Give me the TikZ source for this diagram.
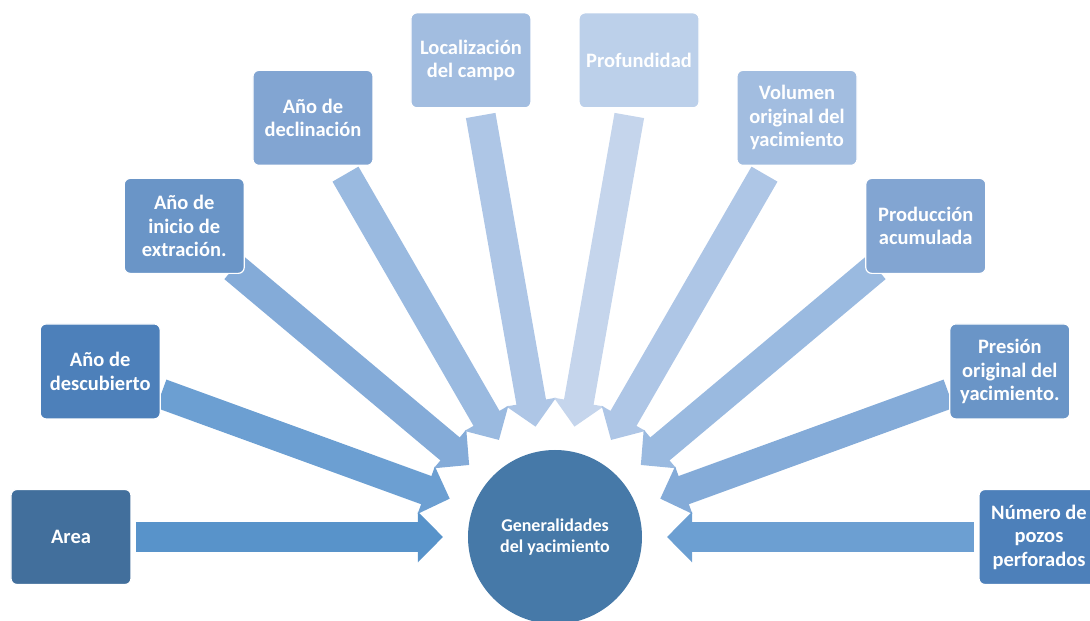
\documentclass[tikz,border=0pt]{standalone}
\usepackage{fontspec}
\setmainfont{Carlito}
\usetikzlibrary{arrows.meta,backgrounds}

\definecolor{hubblue}{HTML}{4679A8}
\definecolor{boxA}{HTML}{426F9C}
\definecolor{boxB}{HTML}{4D80BA}
\definecolor{boxC}{HTML}{6A95C7}
\definecolor{boxD}{HTML}{82A5D2}
\definecolor{boxE}{HTML}{A2BDE0}
\definecolor{boxF}{HTML}{BCD0EA}
\definecolor{arrA}{HTML}{5893CA}
\definecolor{arrB}{HTML}{6C9FD2}
\definecolor{arrC}{HTML}{84ABD8}
\definecolor{arrD}{HTML}{9ABAE0}
\definecolor{arrE}{HTML}{AEC6E6}
\definecolor{arrF}{HTML}{C5D5EC}

\begin{document}
\begin{tikzpicture}[
  box/.style={draw=white, line width=1.2pt, rounded corners=6pt, align=center, minimum width=120pt, minimum height=95pt, inner sep=2pt, text=white, font=\bfseries\fontsize{20.5}{23.5}\selectfont},
  hub/.style={circle, minimum size=174pt, fill=hubblue, align=center, text=white, font=\bfseries\fontsize{18}{20.5}\selectfont},
  arr/.style={line width=30pt, -{Triangle[length=25pt, width=49pt]}, shorten <=65pt, shorten >=112pt}
]
\useasboundingbox (-555pt,-84pt) rectangle (535pt,537pt);
\node[hub] (gen) at (0,0) {Generalidades\\del yacimiento};
\node[box, fill=boxA] (area) at (180:484pt) {Area};
\node[box, fill=boxB] (desc) at (160:484pt) {Año de\\descubierto};
\node[box, fill=boxC] (inicio) at (140:484pt) {Año de\\inicio de\\extración.};
\node[box, fill=boxD] (decl) at (120:484pt) {Año de\\declinación};
\node[box, fill=boxE] (loc) at (100:484pt) {Localización\\del campo};
\node[box, fill=boxF] (prof) at (80:484pt) {Profundidad};
\node[box, fill=boxE] (vol) at (60:484pt) {Volumen\\original del\\yacimiento};
\node[box, fill=boxD] (prod) at (40:484pt) {Producción\\acumulada};
\node[box, fill=boxC] (pres) at (20:484pt) {Presión\\original del\\yacimiento.};
\node[box, fill=boxB] (pozos) at (0:484pt) {Número de\\pozos\\perforados};
\begin{scope}[on background layer]
\draw[arr, arrA] (area.center) -- (gen.center);
\draw[arr, arrB] (desc.center) -- (gen.center);
\draw[arr, arrC] (inicio.center) -- (gen.center);
\draw[arr, arrD] (decl.center) -- (gen.center);
\draw[arr, arrE, shorten <=56pt] (loc.center) -- (gen.center);
\draw[arr, arrF, shorten <=56pt] (prof.center) -- (gen.center);
\draw[arr, arrE] (vol.center) -- (gen.center);
\draw[arr, arrD] (prod.center) -- (gen.center);
\draw[arr, arrC] (pres.center) -- (gen.center);
\draw[arr, arrB] (pozos.center) -- (gen.center);
\end{scope}
\end{tikzpicture}
\end{document}
